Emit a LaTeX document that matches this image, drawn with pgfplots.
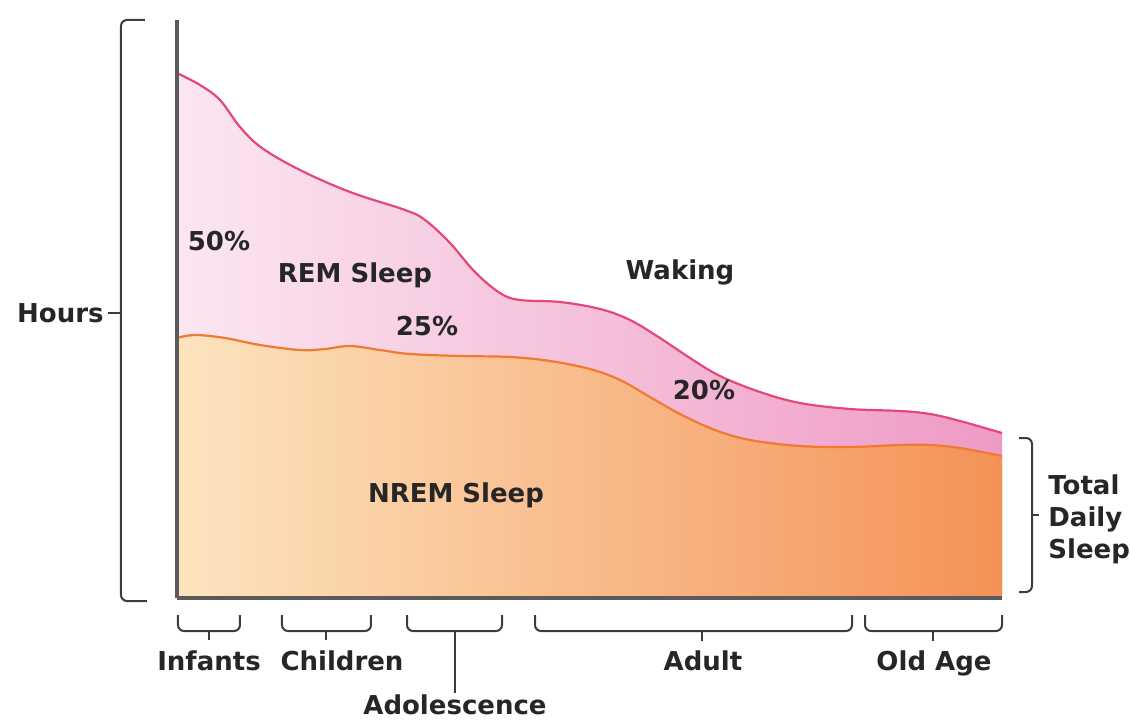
\documentclass[border=0pt]{standalone}
\usepackage{pgfplots}
\pgfplotsset{compat=1.18}
\usepackage{fontspec}
\setmainfont{DejaVu Sans}
\definecolor{nremL}{HTML}{FDE4BF}
\definecolor{nremR}{HTML}{F49256}
\definecolor{remL}{HTML}{FBE6F1}
\definecolor{remR}{HTML}{EF9AC5}
\definecolor{remLine}{HTML}{E5477C}
\definecolor{nremLine}{HTML}{F07A30}
\definecolor{ink}{HTML}{262626}
\definecolor{axisgray}{HTML}{5A5A5A}
\begin{document}
\begin{tikzpicture}[lbl/.style={font=\bfseries\fontsize{13}{15}\selectfont, text=ink, inner sep=0pt},
  br/.style={draw=ink!90, line width=1pt, rounded corners=3pt}]
\begin{axis}[
  x=0.5pt, y=0.5pt,
  xmin=177, xmax=1002, ymin=0, ymax=578,
  axis x line*=bottom, axis y line*=left,
  axis line style={line width=1.6pt, color=axisgray},
  xtick=\empty, ytick=\empty,
  axis on top=true,
  clip=false,
]
% REM sleep top (total sleep) -- filled to the bottom
\addplot[draw=none, left color=remL, right color=remR, smooth, tension=0.6] coordinates {
(177,525) (200,513) (220,498) (240,471) (262,450) (300,428) (350,406) (405,388)
(425,378) (450,355) (475,326) (500,305) (520,298) (560,296) (600,289) (630,278)
(660,260) (690,240) (720,222) (760,206) (800,195) (850,189) (900,187) (930,184)
(960,177) (1002,165)
} \closedcycle;
% NREM sleep
\addplot[draw=none, left color=nremL, right color=nremR, smooth, tension=0.6] coordinates {
(177,260) (195,263) (225,260) (260,253) (300,248) (325,249) (350,252) (380,248)
(410,244) (460,242) (510,241) (550,237) (590,229) (620,218) (650,201) (680,184)
(715,168) (750,158) (800,152) (850,151) (900,153) (930,153) (960,150) (1002,142)
} \closedcycle;
\addplot[remLine, line width=1.1pt, smooth, tension=0.6] coordinates {
(177,525) (200,513) (220,498) (240,471) (262,450) (300,428) (350,406) (405,388)
(425,378) (450,355) (475,326) (500,305) (520,298) (560,296) (600,289) (630,278)
(660,260) (690,240) (720,222) (760,206) (800,195) (850,189) (900,187) (930,184)
(960,177) (1002,165)
};
\addplot[nremLine, line width=1.1pt, smooth, tension=0.6] coordinates {
(177,260) (195,263) (225,260) (260,253) (300,248) (325,249) (350,252) (380,248)
(410,244) (460,242) (510,241) (550,237) (590,229) (620,218) (650,201) (680,184)
(715,168) (750,158) (800,152) (850,151) (900,153) (930,153) (960,150) (1002,142)
};
% labels inside
\node[lbl, anchor=base] at (axis cs:219,{598-250}) {50\%};
\node[lbl, anchor=base] at (axis cs:355,{598-282}) {REM Sleep};
\node[lbl, anchor=base] at (axis cs:427,{598-335}) {25\%};
\node[lbl, anchor=base] at (axis cs:680,{598-279}) {Waking};
\node[lbl, anchor=base] at (axis cs:704,{598-399}) {20\%};
\node[lbl, anchor=base] at (axis cs:456,{598-502}) {NREM Sleep};
% left bracket (Hours)
\draw[br] (axis cs:145,{598-20}) -- (axis cs:121,{598-20}) -- (axis cs:121,{598-601}) -- (axis cs:147,{598-601});
\draw[draw=ink!90, line width=1pt] (axis cs:121,{598-313}) -- (axis cs:108,{598-313});
\node[lbl, anchor=base east] at (axis cs:104,{598-322}) {Hours};
% right bracket (Total Daily Sleep)
\draw[br] (axis cs:1019,{598-438}) -- (axis cs:1032,{598-438}) -- (axis cs:1032,{598-592}) -- (axis cs:1019,{598-592});
\draw[draw=ink!90, line width=1pt] (axis cs:1032,{598-515}) -- (axis cs:1039,{598-515});
\node[lbl, anchor=base west] at (axis cs:1048,{598-494}) {Total};
\node[lbl, anchor=base west] at (axis cs:1048,{598-526}) {Daily};
\node[lbl, anchor=base west] at (axis cs:1048,{598-558}) {Sleep};
% bottom brackets
\draw[br] (axis cs:178,{598-615}) -- (axis cs:178,{598-631}) -- (axis cs:240,{598-631}) -- (axis cs:240,{598-615});
\draw[draw=ink!90, line width=1pt] (axis cs:209,{598-631}) -- (axis cs:209,{598-640});
\draw[br] (axis cs:282,{598-615}) -- (axis cs:282,{598-631}) -- (axis cs:371,{598-631}) -- (axis cs:371,{598-615});
\draw[draw=ink!90, line width=1pt] (axis cs:326,{598-631}) -- (axis cs:326,{598-640});
\draw[br] (axis cs:407,{598-615}) -- (axis cs:407,{598-631}) -- (axis cs:502,{598-631}) -- (axis cs:502,{598-615});
\draw[draw=ink!90, line width=1pt] (axis cs:455,{598-631}) -- (axis cs:455,{598-693});
\draw[br] (axis cs:535,{598-615}) -- (axis cs:535,{598-631}) -- (axis cs:852,{598-631}) -- (axis cs:852,{598-615});
\draw[draw=ink!90, line width=1pt] (axis cs:702,{598-631}) -- (axis cs:702,{598-641});
\draw[br] (axis cs:865,{598-615}) -- (axis cs:865,{598-631}) -- (axis cs:1002,{598-631}) -- (axis cs:1002,{598-615});
\draw[draw=ink!90, line width=1pt] (axis cs:933,{598-631}) -- (axis cs:933,{598-641});
\node[lbl, anchor=base] at (axis cs:209,{598-670}) {Infants};
\node[lbl, anchor=base] at (axis cs:342,{598-670}) {Children};
\node[lbl, anchor=base] at (axis cs:455,{598-714}) {Adolescence};
\node[lbl, anchor=base] at (axis cs:703,{598-670}) {Adult};
\node[lbl, anchor=base] at (axis cs:934,{598-670}) {Old Age};
\coordinate (BL) at (axis cs:0,{598-719});
\coordinate (TR) at (axis cs:1131,598);
\end{axis}
\pgfresetboundingbox
\path[use as bounding box] (BL) rectangle (TR);
\end{tikzpicture}
\end{document}
